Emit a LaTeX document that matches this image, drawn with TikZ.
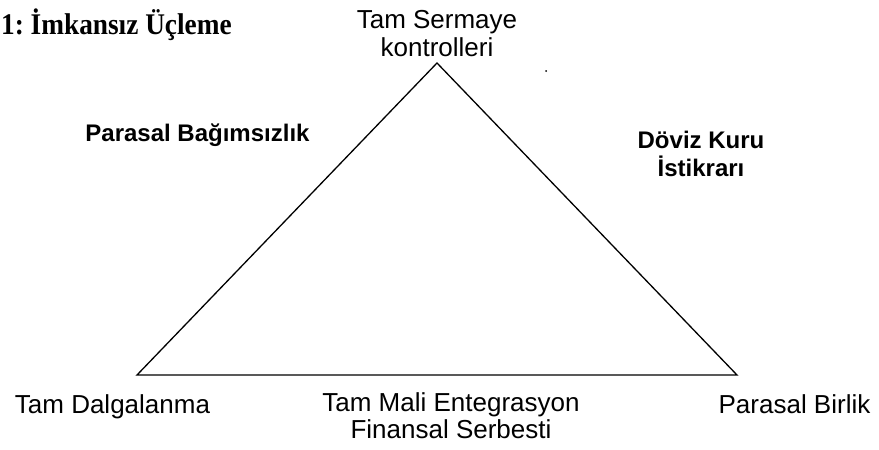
\documentclass[tikz,border=0pt]{standalone}
\usepackage{fontspec}
\setmainfont{Liberation Sans}
\newfontfamily\titlefont[FakeStretch=0.91]{Liberation Serif}

\begin{document}
\begin{tikzpicture}[x=1pt,y=-1pt,
lbl/.style={inner sep=0pt, align=center, font=\fontsize{26}{28}\selectfont},
boldlbl/.style={inner sep=0pt, align=center, font=\fontsize{24}{28}\selectfont\bfseries}]
\useasboundingbox (0,0) rectangle (879,450);

\node[anchor=west, inner sep=0pt, font=\fontsize{30}{30}\selectfont\titlefont\bfseries] (title) at (1,25) {1:\ İmkansız Üçleme};

\coordinate (apex) at (437,63);
\coordinate (left) at (137,375);
\coordinate (right) at (737,375);
\draw[line width=1.3pt, line join=miter] (apex) -- (right) -- (left) -- cycle;

\node[lbl] (kontrol) at (437,34) {Tam Sermaye\\kontrolleri};
\node[boldlbl] (bagimsiz) at (197.5,135) {Parasal Bağımsızlık};
\node[boldlbl] (istikrar) at (701,154) {Döviz Kuru\\İstikrarı};
\node[lbl, anchor=base] (dalga) at (112.5,413) {Tam Dalgalanma};
\node[lbl, font=\fontsize{26}{27}\selectfont] (entegre) at (451,416) {Tam Mali Entegrasyon\\Finansal Serbesti};
\node[lbl, anchor=base] (birlik) at (794.5,413) {Parasal Birlik};

\fill (546,71) circle (1pt);
\end{tikzpicture}
\end{document}
